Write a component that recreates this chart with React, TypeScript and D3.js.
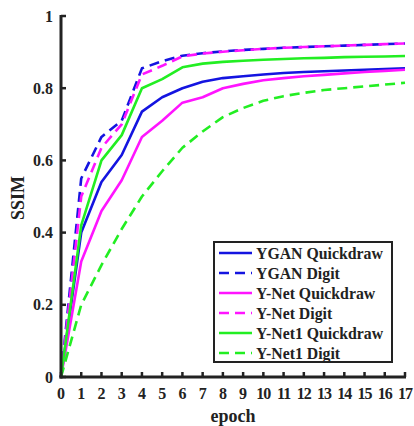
import React from "react";
import * as d3 from "d3";

const epochs = d3.range(0, 18);
const yTicks = [0, 0.2, 0.4, 0.6, 0.8, 1];
const yTickLabels = ["0", "0.2", "0.4", "0.6", "0.8", "1"];

const ygan_quickdraw = [0, 0.40, 0.54, 0.615, 0.735, 0.775, 0.80, 0.818, 0.828, 0.833, 0.838, 0.842, 0.845, 0.847, 0.849, 0.851, 0.853, 0.855];
const ygan_digit = [0, 0.55, 0.665, 0.71, 0.855, 0.875, 0.89, 0.897, 0.902, 0.906, 0.909, 0.912, 0.914, 0.916, 0.918, 0.92, 0.922, 0.924];
const ynet_quickdraw = [0, 0.32, 0.46, 0.545, 0.665, 0.71, 0.76, 0.775, 0.80, 0.812, 0.822, 0.828, 0.833, 0.837, 0.841, 0.845, 0.848, 0.851];
const ynet_digit = [0, 0.50, 0.635, 0.70, 0.838, 0.862, 0.888, 0.896, 0.901, 0.905, 0.909, 0.912, 0.914, 0.916, 0.918, 0.92, 0.922, 0.924];
const ynet1_quickdraw = [0, 0.42, 0.60, 0.67, 0.80, 0.825, 0.858, 0.868, 0.873, 0.876, 0.879, 0.881, 0.883, 0.884, 0.886, 0.887, 0.888, 0.889];
const ynet1_digit = [0, 0.20, 0.31, 0.41, 0.50, 0.57, 0.635, 0.68, 0.72, 0.745, 0.765, 0.778, 0.787, 0.795, 0.80, 0.805, 0.81, 0.815];

const seriesNames = ["YGAN Quickdraw", "YGAN Digit", "Y-Net Quickdraw", "Y-Net Digit", "Y-Net1 Quickdraw", "Y-Net1 Digit"];
const seriesValues = [ygan_quickdraw, ygan_digit, ynet_quickdraw, ynet_digit, ynet1_quickdraw, ynet1_digit];
const seriesColors = ["#1414e0", "#1414e0", "#ff14ff", "#ff14ff", "#22ee22", "#22ee22"];
const seriesDashed = [false, true, false, true, false, true];

const FONT = "'Liberation Serif', 'Times New Roman', serif";

export default function App() {
  const W = 414, H = 426;
  const x = d3.scaleLinear().domain([0, 17]).range([61, 405]);
  const y = d3.scaleLinear().domain([0, 1]).range([377, 16]);
  const line = d3.line<number>().x((_, i) => x(epochs[i])).y((d) => y(d));
  const axisColor = "#222";

  const legX = 214, legY = 242, legW = 178, legH = 120;

  return (
    <svg width={W} height={H} style={{ position: "absolute", left: 0, top: 0, background: "#fff" }} fontFamily={FONT}>
      <rect width={W} height={H} fill="#fff" />
      {seriesValues.map((vals, i) => (
        <path key={i} d={line(vals) || ""} fill="none" stroke={seriesColors[i]} strokeWidth={2.6}
          strokeDasharray={seriesDashed[i] ? "10 6" : undefined} strokeLinejoin="round" />
      ))}
      {/* axes */}
      <line x1={x(0)} x2={x(0)} y1={y(1) - 1} y2={y(0) + 1.5} stroke={axisColor} strokeWidth={3} />
      <line x1={x(0) - 1.5} x2={x(17) + 1} y1={y(0)} y2={y(0)} stroke={axisColor} strokeWidth={3} />
      {yTicks.map((t, i) => (
        <g key={"yt" + i}>
          <line x1={x(0)} x2={x(0) + 5} y1={y(t)} y2={y(t)} stroke={axisColor} strokeWidth={2.5} />
          <text x={53} y={y(t)} dy="0.35em" textAnchor="end" fontSize={16} fontWeight="bold" fill="#222">{yTickLabels[i]}</text>
        </g>
      ))}
      {epochs.map((e) => (
        <g key={"xt" + e}>
          <line x1={x(e)} x2={x(e)} y1={y(0)} y2={y(0) - 5} stroke={axisColor} strokeWidth={2.5} />
          <text x={x(e)} y={399} textAnchor="middle" fontSize={16} fontWeight="bold" fill="#222" letterSpacing={e >= 10 ? -1 : 0}>{String(e)}</text>
        </g>
      ))}
      <text x={(x(0) + x(17)) / 2} y={422} textAnchor="middle" fontSize={18} fontWeight="bold" fill="#222">epoch</text>
      <text transform={`translate(24,198) rotate(-90)`} textAnchor="middle" fontSize={18} fontWeight="bold" fill="#222">SSIM</text>
      {/* legend */}
      <rect x={legX} y={legY} width={legW} height={legH} fill="#fff" stroke="#222" strokeWidth={2} />
      {seriesNames.map((n, i) => {
        const cy = legY + 11 + i * 20;
        return (
          <g key={"lg" + i}>
            <line x1={219} x2={252} y1={cy} y2={cy} stroke={seriesColors[i]} strokeWidth={2.6}
              strokeDasharray={seriesDashed[i] ? "10 6" : undefined} />
            <text x={256} y={cy} dy="0.35em" fontSize={15.8} fontWeight="bold" fill="#222">{n}</text>
          </g>
        );
      })}
    </svg>
  );
}
